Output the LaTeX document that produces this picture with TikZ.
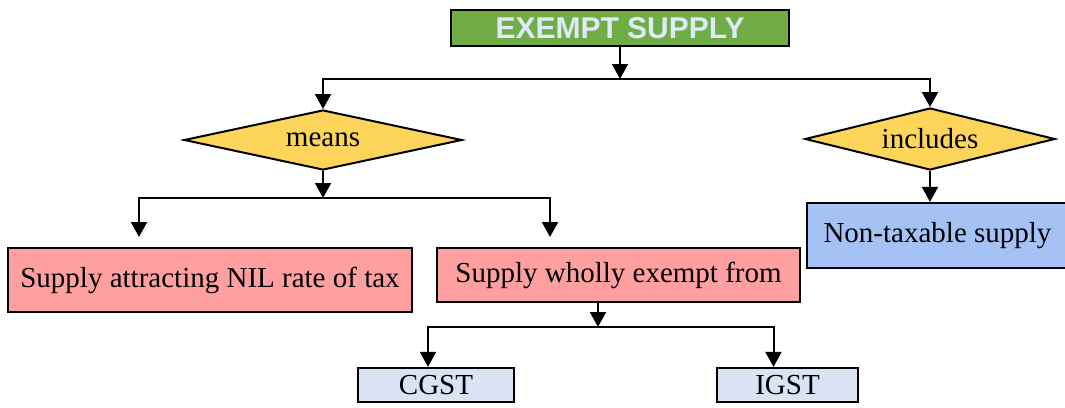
\documentclass[tikz,border=0pt]{standalone}
\usepackage{fontspec}
\setmainfont{Liberation Serif}
\newfontfamily\titlefont{Liberation Sans}
\usetikzlibrary{arrows.meta,shapes.geometric}
\definecolor{Leaf}{HTML}{70AD47}
\definecolor{Frost}{HTML}{DEEBF7}
\definecolor{Gold}{HTML}{FDD55B}
\definecolor{Rose}{HTML}{FF9F9F}
\definecolor{Sky}{HTML}{A4C2F4}
\definecolor{Mist}{HTML}{DAE3F3}
\tikzset{
  >={Triangle[width=8pt,length=7.5pt]},
  box/.style={rectangle,draw=black,line width=1.1pt,inner sep=0pt,font=\fontsize{14.5}{16}\selectfont},
  head/.style={box,fill=Leaf,text=Frost,font=\titlefont\bfseries\fontsize{15}{17}\selectfont},
  choice/.style={diamond,draw=black,line width=1pt,fill=Gold,inner sep=0pt,font=\fontsize{14.5}{16}\selectfont},
  pinkbox/.style={box,fill=Rose},
  bluebox/.style={box,fill=Sky},
  taxbox/.style={box,fill=Mist},
  arr/.style={->,line width=1pt,draw=black}
}
\begin{document}
\begin{tikzpicture}[x=0.5pt,y=-0.5pt]
  \useasboundingbox (0,0) rectangle (1065,407);
  % top
  \node[head,minimum width=169pt,minimum height=18pt] (title) at (620,28) {EXEMPT SUPPLY};
  \coordinate (bar1) at (620,79);
  \node[choice,aspect=4.6,minimum width=139pt,minimum height=30pt] (means) at (323,140) {means};
  \node[choice,aspect=4,minimum width=125pt,minimum height=31pt] (incl) at (930,139) {includes};
  \draw[arr] (title.south) -- (bar1);
  \draw[arr] (bar1) -| (means.north);
  \draw[arr] (bar1) -| (incl.north);
  % means branch
  \node[pinkbox,minimum width=202pt,minimum height=32pt] (nil) at (210,280) {Supply attracting NIL rate of tax};
  \node[pinkbox,minimum width=181.5pt,minimum height=27pt] (wholly) at (618.5,275) {Supply wholly exempt from};
  \coordinate (bar2) at (323,198);
  \coordinate (nilin) at (139,237);
  \coordinate (whollyin) at (550,237);
  \draw[arr] (means.south) -- (bar2);
  \draw[arr] (bar2) -| (nilin);
  \draw[arr] (bar2) -| (whollyin);
  % includes branch
  \node[bluebox,minimum width=130.5pt,minimum height=32.5pt] (nontax) at (937.5,235.5) {Non-taxable supply};
  \draw[arr] (incl.south) -- (incl.south |- nontax.north);
  % taxes
  \node[taxbox,minimum width=78pt,minimum height=17pt] (cgst) at (436,385) {CGST};
  \node[taxbox,minimum width=70.5pt,minimum height=17pt] (igst) at (787.5,385) {IGST};
  \coordinate (bar3) at (598,327);
  \draw[arr] (wholly.south -| bar3) -- (bar3);
  \draw[arr] (bar3) -| ([xshift=-4pt]cgst.north);
  \draw[arr] (bar3) -| ([xshift=-7pt]igst.north);
\end{tikzpicture}
\end{document}
